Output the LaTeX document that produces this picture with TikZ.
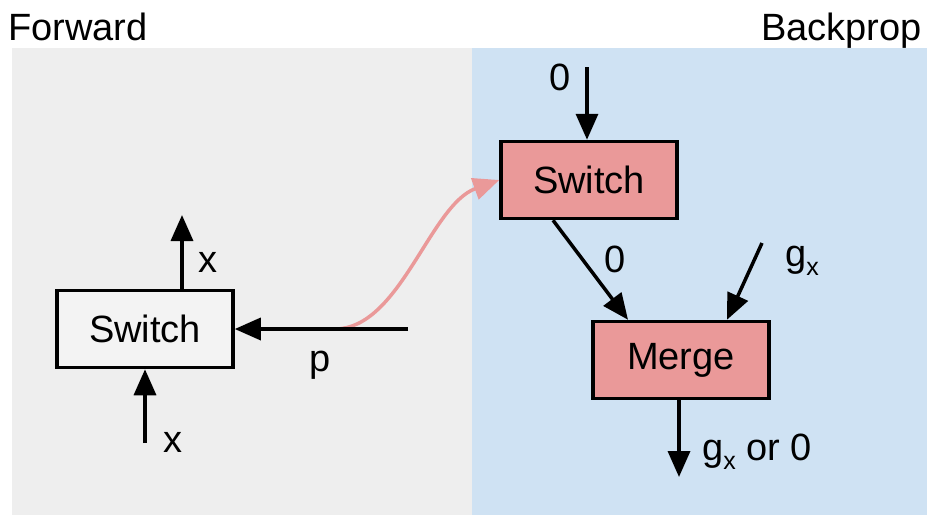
\documentclass[tikz,border=0pt]{standalone}
\usepackage{fontspec}
\setmainfont{Liberation Sans}
\usetikzlibrary{arrows.meta}
\definecolor{fwdbg}{HTML}{EEEEEE}
\definecolor{bwdbg}{HTML}{CFE2F3}
\definecolor{opred}{HTML}{EA9999}
\definecolor{boxwhite}{HTML}{F3F3F3}
\newcommand{\gsub}{g\raisebox{-9pt}{\fontsize{25}{25}\selectfont x}}
\tikzset{
  lbl/.style={font=\fontsize{38}{38}\selectfont, inner sep=0pt},
  opbox/.style={draw=black, line width=3.5pt, minimum width=176pt, minimum height=77pt,
                inner sep=0pt, font=\fontsize{38}{38}\selectfont},
  arr/.style={line width=3.5pt, -{Triangle[length=26pt,width=22pt]}},
  grad/.style={line width=3.5pt, draw=opred, -{Triangle[length=26pt,width=22pt]}},
}
\begin{document}
\begin{tikzpicture}[x=1pt, y=-1pt]
  \useasboundingbox (0,0) rectangle (927,515);
  % panels
  \fill[fwdbg] (12,48) rectangle (472,515);
  \fill[bwdbg] (472,48) rectangle (927,515);
  \node[lbl, anchor=base west] (fwdtitle) at (8,40) {Forward};
  \node[lbl, anchor=base east] (bwdtitle) at (922,40) {Backprop};

  % forward pass
  \node[opbox, fill=boxwhite] (lsw) at (145,329) {Switch};
  \coordinate (xin) at (145,443);
  \coordinate (xout) at (182,215);
  \coordinate (pin) at (408,329);
  \coordinate (pfork) at (335,329);
  \draw[arr] (xin) -- (lsw.south);
  \draw[arr] (lsw.north -| xout) -- (xout);
  \node[lbl, anchor=base] (xoutlbl) at (208,272) {x};
  \node[lbl, anchor=base] (xinlbl) at (173,452) {x};
  \node[lbl, anchor=base] (plbl) at (320,371) {p};

  % backward pass
  \node[opbox, fill=opred] (rsw) at (589,180) {Switch};
  \node[opbox, fill=opred] (mrg) at (681,360) {Merge};

  \draw[grad] (pfork) .. controls (400,329) and (430,205) .. (rsw.west);
  \draw[arr] (pin) -- (lsw.east |- pin);

  \coordinate (zin) at (587,67);
  \coordinate (gxin) at (762,243);
  \coordinate (mout) at (679,477);
  \draw[arr] (zin) -- (rsw.north -| zin);
  \draw[arr] ([xshift=-36pt]rsw.south) -- ([xshift=-53pt]mrg.north);
  \draw[arr] (gxin) -- ([xshift=46pt]mrg.north);
  \draw[arr] (mrg.south -| mout) -- (mout);

  \node[lbl, anchor=base] (zinlbl) at (560,90) {0};
  \node[lbl, anchor=base] (zmidlbl) at (615,272) {0};
  \node[lbl, anchor=base west] (gxlbl) at (785,266) {\gsub};
  \node[lbl, anchor=base west] (outlbl) at (702,460) {\gsub{} or 0};
\end{tikzpicture}
\end{document}
